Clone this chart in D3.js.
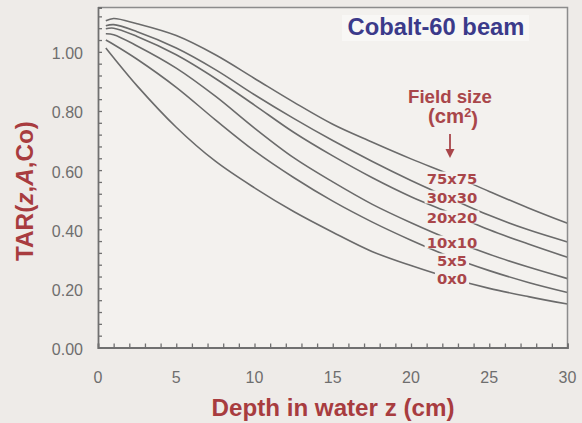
<!DOCTYPE html>
<html>
<head>
<meta charset="utf-8">
<script src="https://cdn.jsdelivr.net/npm/d3@7"></script>
<style>
  html, body { margin: 0; padding: 0; background: #eeebe8; }
  svg { display: block; }
  text { font-family: "Liberation Sans", Arial, sans-serif; }
</style>
</head>
<body>
<svg id="chart" width="582" height="423"></svg>
<script>
// ---- data ----
const depths = [0.5, 1, 2.5, 5, 7.5, 10, 12.5, 15, 17.5, 20, 22.5, 25, 27.5, 30];
const fieldSizes = ["75x75", "30x30", "20x20", "10x10", "5x5", "0x0"];
const tar75 = [1.105, 1.113, 1.095, 1.055, 0.990, 0.910, 0.830, 0.755, 0.695, 0.638, 0.585, 0.528, 0.472, 0.420];
const tar30 = [1.088, 1.092, 1.068, 1.013, 0.940, 0.855, 0.775, 0.700, 0.630, 0.565, 0.505, 0.447, 0.398, 0.357];
const tar20 = [1.078, 1.080, 1.052, 0.990, 0.910, 0.820, 0.728, 0.648, 0.575, 0.510, 0.455, 0.398, 0.350, 0.305];
const tar10 = [1.061, 1.058, 1.020, 0.945, 0.850, 0.742, 0.642, 0.560, 0.485, 0.422, 0.365, 0.315, 0.272, 0.233];
const tar5  = [1.040, 1.025, 0.975, 0.880, 0.770, 0.665, 0.575, 0.495, 0.425, 0.363, 0.307, 0.260, 0.220, 0.186];
const tar0  = [1.013, 0.980, 0.885, 0.745, 0.630, 0.540, 0.460, 0.390, 0.325, 0.277, 0.235, 0.200, 0.172, 0.147];
const seriesValues = [tar75, tar30, tar20, tar10, tar5, tar0];
const xTickValues = [0, 5, 10, 15, 20, 25, 30];
const yTickValues = [0, 0.2, 0.4, 0.6, 0.8, 1.0];
const title = "Cobalt-60 beam";
const xTitle = "Depth in water z (cm)";

// ---- helpers ----
function fitWidth(sel, w) {
  const cur = sel.node().getComputedTextLength();
  const fs = parseFloat(sel.attr("font-size"));
  sel.attr("font-size", fs * w / cur);
  return sel;
}

// ---- layout ----
const svg = d3.select("#chart");
const plotBg = "#f3f1ee";
const x = d3.scaleLinear().domain([0, 30]).range([98, 567.5]);
const y = d3.scaleLinear().domain([0, 1.15]).range([347.5, 7.5]);

// plot background
svg.append("rect")
  .attr("x", x(0)).attr("y", y(1.15))
  .attr("width", x(30) - x(0)).attr("height", y(0) - y(1.15))
  .attr("fill", plotBg);

// title box + title
const tg = svg.append("g");
tg.append("rect").attr("x", 342).attr("y", 15).attr("width", 187).attr("height", 26).attr("fill", "#f8f7f5");
const tt = tg.append("text").attr("x", 436).attr("y", 35)
  .attr("text-anchor", "middle").attr("font-weight", "bold").attr("font-size", 20)
  .attr("fill", "#3b3a8a").text(title);
fitWidth(tt, 177);

// curves
const line = d3.line().x(d => x(d[0])).y(d => y(d[1])).curve(d3.curveCatmullRom.alpha(0.5));
svg.append("g").selectAll("path")
  .data(seriesValues)
  .join("path")
  .attr("d", vals => line(depths.map((d, i) => [d, vals[i]])))
  .attr("fill", "none").attr("stroke", "#6b6b6b").attr("stroke-width", 1.6);

// frame (top & right)
svg.append("path")
  .attr("d", `M${x(0)},${y(1.15)}H${x(30)}V${y(0)}`)
  .attr("fill", "none").attr("stroke", "#8c8c8c").attr("stroke-width", 1.5);

// axes with inward ticks
const axisColor = "#707070";
const xAxisG = svg.append("g").attr("transform", `translate(0,${y(0)})`)
  .call(d3.axisBottom(x).tickValues(d3.range(0, 31, 1)).tickSize(-4).tickFormat(""));
const yAxisG = svg.append("g").attr("transform", `translate(${x(0)},0)`)
  .call(d3.axisLeft(y).tickValues(d3.range(0, 1.1501, 0.04)).tickSize(-4).tickFormat(""));
[xAxisG, yAxisG].forEach(g => {
  g.select(".domain").attr("stroke", axisColor).attr("stroke-width", 1.8);
  g.selectAll(".tick line").attr("stroke", axisColor).attr("stroke-width", 1.3);
});

// tick labels
const tickColor = "#6e6e6e";
svg.append("g").selectAll("text").data(xTickValues).join("text")
  .attr("x", d => x(d)).attr("y", 383)
  .attr("text-anchor", "middle").attr("font-size", 16).attr("fill", tickColor)
  .text(d => d);
svg.append("g").selectAll("text").data(yTickValues).join("text")
  .attr("x", 83).attr("y", d => y(d) + 7.5)
  .attr("text-anchor", "end").attr("font-size", 16).attr("fill", tickColor)
  .text(d => d3.format(".2f")(d));

// axis titles
const red = "#a83c3f";
const xt = svg.append("text").attr("x", 333).attr("y", 416)
  .attr("text-anchor", "middle").attr("font-weight", "bold").attr("font-size", 20)
  .attr("fill", red).text(xTitle);
fitWidth(xt, 243);
const yt = svg.append("text")
  .attr("transform", "translate(33,191) rotate(-90)")
  .attr("text-anchor", "middle").attr("font-weight", "bold").attr("font-size", 20)
  .attr("fill", red);
yt.append("tspan").text("TAR(");
yt.append("tspan").attr("font-style", "italic").text("z");
yt.append("tspan").text(",");
yt.append("tspan").attr("font-style", "italic").text("A");
yt.append("tspan").text(",Co)");
fitWidth(yt, 140);

// field size legend
const lblRed = "#a9464a";
const fs1 = svg.append("text").attr("x", 450).attr("y", 103)
  .attr("text-anchor", "middle").attr("font-weight", "bold").attr("font-size", 15)
  .attr("fill", lblRed).text("Field size");
fitWidth(fs1, 84);
const cm = svg.append("text").attr("x", 453).attr("y", 123)
  .attr("text-anchor", "middle").attr("font-weight", "bold").attr("font-size", 15)
  .attr("fill", lblRed);
cm.append("tspan").text("(cm");
cm.append("tspan").attr("font-size", "0.62em").attr("dy", "-0.45em").text("2");
cm.append("tspan").attr("dy", "0.45em").text(")");
fitWidth(cm, 50);
svg.append("line").attr("x1", 450).attr("x2", 450).attr("y1", 134).attr("y2", 151)
  .attr("stroke", lblRed).attr("stroke-width", 1.8);
svg.append("path").attr("d", "M445.5,149 L454.5,149 L450,158 Z").attr("fill", lblRed);

const labelY = [178, 197, 217, 242, 260, 278];
const lg = svg.append("g");
fieldSizes.forEach((name, i) => {
  const t = lg.append("text").attr("x", 452).attr("y", labelY[i] + 5.5)
    .attr("text-anchor", "middle").attr("font-weight", "bold").attr("font-size", 14.8)
    .style("font-family", "'DejaVu Sans', sans-serif")
    .attr("fill", lblRed).text(name);
  const b = t.node().getBBox();
  lg.insert("rect", "text")
    .attr("x", b.x - 2).attr("y", b.y + 2).attr("width", b.width + 4).attr("height", b.height - 4)
    .attr("fill", plotBg);
});
</script>
</body>
</html>
